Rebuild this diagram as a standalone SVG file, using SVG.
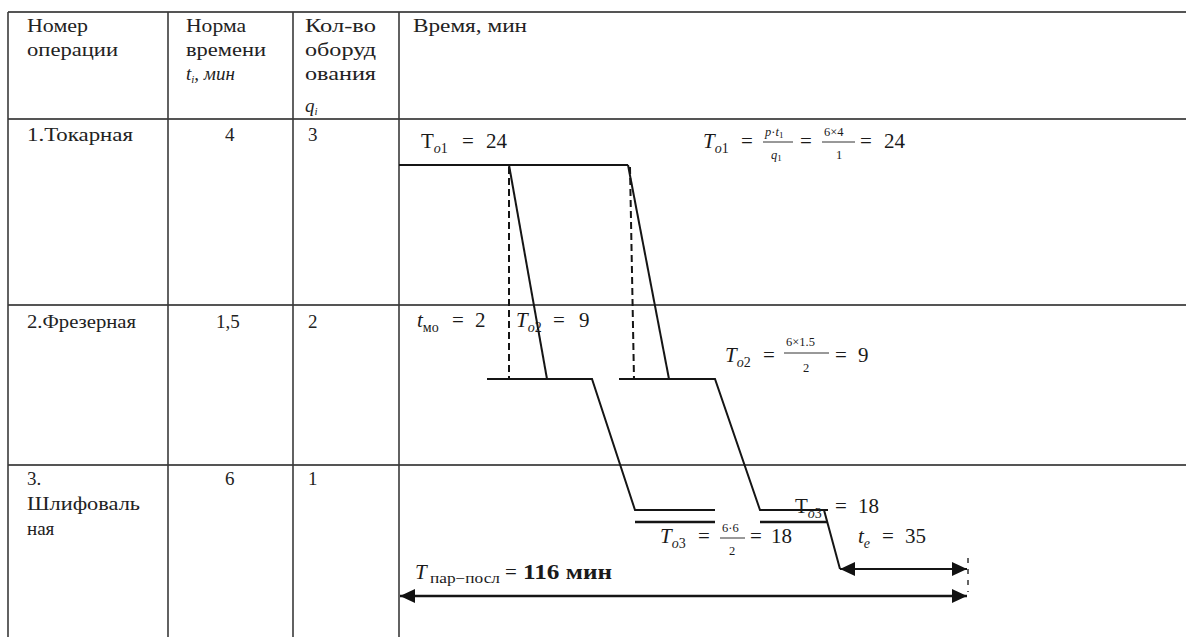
<svg xmlns="http://www.w3.org/2000/svg" width="1186" height="637" viewBox="0 0 1186 637" font-family="Liberation Serif, Tinos, Times New Roman, Times, Nimbus Roman, Noto Serif, DejaVu Serif, FreeSerif, serif">
<style>
.tb{stroke:#3a3a3a;stroke-width:1.6;fill:none}
.rw{stroke:#555;stroke-width:2;fill:none}
.ln{stroke:#151515;stroke-width:2;fill:none}
.dl{stroke:#151515;stroke-width:2.5;fill:none}
.ds{stroke:#151515;stroke-width:2;fill:none;stroke-dasharray:7 4}
.t{font-size:19px;fill:#222}
.m{font-size:21px;fill:#1a1a1a}
.s{font-size:14px;fill:#1a1a1a}
.f{font-size:12.5px;fill:#1a1a1a}
.i{font-style:italic}
</style>
<defs>
<marker id="ah" markerWidth="16" markerHeight="14" refX="15" refY="7" orient="auto-start-reverse" markerUnits="userSpaceOnUse">
<path d="M0,0 L15,7 L0,14 Z" fill="#111"/>
</marker>
</defs>
<rect width="1186" height="637" fill="#fff"/>
<g id="table">
<line class="rw" x1="8" y1="12" x2="1186" y2="12"/>
<line class="rw" x1="8" y1="119" x2="1186" y2="119"/>
<line class="rw" x1="8" y1="305" x2="1186" y2="305"/>
<line class="rw" x1="8" y1="465" x2="1186" y2="465"/>
<line class="tb" x1="8" y1="12" x2="8" y2="637"/>
<line class="tb" x1="168" y1="12" x2="168" y2="637"/>
<line class="tb" x1="293" y1="12" x2="293" y2="637"/>
<line class="tb" x1="399" y1="12" x2="399" y2="637"/>
</g>
<g id="header">
<text class="t" x="27" y="32" textLength="61" lengthAdjust="spacingAndGlyphs">Номер</text>
<text class="t" x="27" y="56" textLength="91" lengthAdjust="spacingAndGlyphs">операции</text>
<text class="t" x="186" y="32" textLength="60" lengthAdjust="spacingAndGlyphs">Норма</text>
<text class="t" x="186" y="56" textLength="80" lengthAdjust="spacingAndGlyphs">времени</text>
<text class="t i" x="186" y="80"><tspan>t</tspan><tspan font-size="11" dy="3">i</tspan><tspan dy="-3">, мин</tspan></text>
<text class="t" x="305" y="32" textLength="71" lengthAdjust="spacingAndGlyphs">Кол-во</text>
<text class="t" x="305" y="56" textLength="71" lengthAdjust="spacingAndGlyphs">оборуд</text>
<text class="t" x="305" y="80" textLength="71" lengthAdjust="spacingAndGlyphs">ования</text>
<text class="t i" x="305" y="112"><tspan>q</tspan><tspan font-size="11" dy="3">i</tspan></text>
<text class="t" x="413" y="32" textLength="114" lengthAdjust="spacingAndGlyphs">Время, мин</text>
</g>
<g id="row1">
<text class="t" x="27" y="141" textLength="106" lengthAdjust="spacingAndGlyphs">1.Токарная</text>
<text class="t" x="225" y="141">4</text>
<text class="t" x="308" y="141">3</text>
</g>
<g id="row2">
<text class="t" x="27" y="328" textLength="109" lengthAdjust="spacingAndGlyphs">2.Фрезерная</text>
<text class="t" x="216" y="328">1,5</text>
<text class="t" x="308" y="328">2</text>
</g>
<g id="row3">
<text class="t" x="27" y="485">3.</text>
<text class="t" x="27" y="510" textLength="113" lengthAdjust="spacingAndGlyphs">Шлифоваль</text>
<text class="t" x="27" y="535">ная</text>
<text class="t" x="225" y="485">6</text>
<text class="t" x="308" y="485">1</text>
</g>
<g id="connectors">
<line class="ln" x1="399" y1="165" x2="628" y2="165"/>
<line class="ln" x1="509" y1="165" x2="547" y2="379"/>
<line class="ln" x1="628" y1="165" x2="669" y2="379"/>
<line class="ds" x1="509" y1="167" x2="509" y2="379"/>
<line class="ds" x1="630" y1="167" x2="634" y2="379"/>
<polyline class="ln" points="487,379 592,379 635,510 715,510"/>
<polyline class="ln" points="619,379 715,379 760,510 828,510"/>
<line class="dl" x1="635" y1="522" x2="715" y2="522"/>
<line class="dl" x1="760" y1="522" x2="828" y2="522"/>
<line class="ln" x1="824" y1="510" x2="840" y2="569"/>
<line class="ln" x1="840" y1="569" x2="967" y2="569" marker-start="url(#ah)" marker-end="url(#ah)"/>
<line class="dl" x1="400" y1="596" x2="967" y2="596" marker-start="url(#ah)" marker-end="url(#ah)"/>
<line stroke="#333" stroke-width="1.5" stroke-dasharray="5 6" x1="968" y1="558" x2="968" y2="592"/>
</g>
<g id="labels">
<text class="m" x="421" y="148">T<tspan class="s" dy="5"><tspan class="i">o</tspan>1</tspan><tspan dy="-5" x="462">=</tspan><tspan x="486">24</tspan></text>
<text class="m" x="703" y="148"><tspan class="i">T</tspan><tspan class="s" dy="5"><tspan class="i">o</tspan>1</tspan><tspan dy="-5" x="741">=</tspan></text>
<text class="f" x="765" y="136"><tspan class="i">p</tspan>·<tspan class="i">t</tspan><tspan font-size="9" dy="2">1</tspan></text>
<line stroke="#333" stroke-width="1" x1="763" y1="142" x2="793" y2="142"/>
<text class="f" x="771" y="159"><tspan class="i">q</tspan><tspan font-size="9" dy="2">1</tspan></text>
<text class="m" x="800" y="148">=</text>
<text class="f" x="824" y="136">6×4</text>
<line stroke="#333" stroke-width="1" x1="822" y1="142" x2="855" y2="142"/>
<text class="f" x="836" y="159">1</text>
<text class="m" x="860" y="148">=<tspan x="884">24</tspan></text>
<text class="m" x="417" y="327"><tspan class="i">t</tspan><tspan class="s" dy="5">мо</tspan><tspan dy="-5" x="452">=</tspan><tspan x="475">2</tspan></text>
<text class="m" x="516" y="327"><tspan class="i">T</tspan><tspan class="s" dy="5"><tspan class="i">o</tspan>2</tspan><tspan dy="-5" x="553">=</tspan><tspan x="579">9</tspan></text>
<text class="m" x="725" y="362"><tspan class="i">T</tspan><tspan class="s" dy="5"><tspan class="i">o</tspan>2</tspan><tspan dy="-5" x="763">=</tspan></text>
<text class="f" x="786" y="346">6×1.5</text>
<line stroke="#333" stroke-width="1" x1="784" y1="353" x2="829" y2="353"/>
<text class="f" x="803" y="372">2</text>
<text class="m" x="835" y="362">=<tspan x="858">9</tspan></text>
<text class="m" x="795" y="513">T<tspan class="s" dy="5"><tspan class="i">o</tspan>3</tspan><tspan dy="-5" x="835">=</tspan><tspan x="858">18</tspan></text>
<text class="m" x="660" y="543"><tspan class="i">T</tspan><tspan class="s" dy="5"><tspan class="i">o</tspan>3</tspan><tspan dy="-5" x="698">=</tspan></text>
<text class="f" x="722" y="532">6·6</text>
<line stroke="#333" stroke-width="1" x1="720" y1="538" x2="745" y2="538"/>
<text class="f" x="729" y="555">2</text>
<text class="m" x="750" y="543">=<tspan x="771">18</tspan></text>
<text class="m" x="858" y="543"><tspan class="i">t</tspan><tspan class="s i" dy="5">e</tspan><tspan dy="-5" x="882">=</tspan><tspan x="905">35</tspan></text>
<text class="m i" x="415" y="579">T</text>
<text class="s" x="430" y="583" textLength="70" lengthAdjust="spacingAndGlyphs">пар−посл</text>
<text class="m" x="505" y="579">=</text>
<text class="m" x="523" y="579" font-weight="bold" textLength="89" lengthAdjust="spacingAndGlyphs">116 мин</text>
</g>
</svg>
